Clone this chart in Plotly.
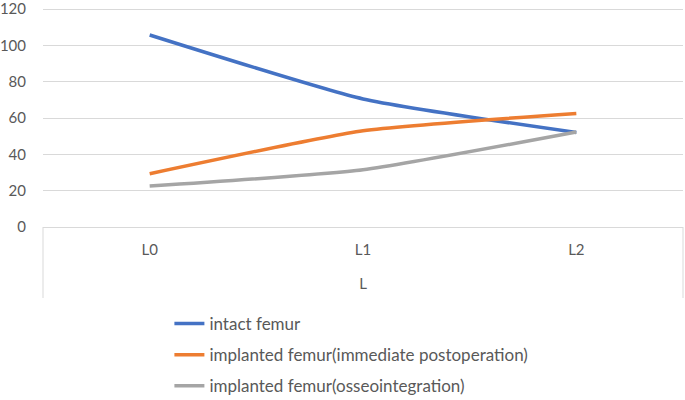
import plotly.graph_objects as go

categories = ["L0", "L1", "L2"]
intact = [105.7, 70.5, 52.0]
immediate = [29.3, 53.0, 62.5]
osseo = [22.5, 31.5, 52.3]
y_ticks = [0, 20, 40, 60, 80, 100, 120]

series = [
    ("intact femur", intact, "#4472C4"),
    ("implanted femur(immediate postoperation)", immediate, "#ED7D31"),
    ("implanted femur(osseointegration)", osseo, "#A5A5A5"),
]

FONT = "Lato, 'Open Sans', sans-serif"
GRID = "#d9d9d9"
TXT = "#595959"

fig = go.Figure()
for i, (name, vals, col) in enumerate(series):
    fig.add_trace(go.Scatter(
        x=categories, y=vals, name=name, mode="lines",
        line=dict(color=col, width=3.5, shape="spline", smoothing=0.5),
        legendgroup=f"g{i}",
    ))

fig.update_layout(
    width=685, height=400,
    margin=dict(l=43, r=2, t=5, b=173, autoexpand=False),
    paper_bgcolor="white", plot_bgcolor="white",
    font=dict(family=FONT, color=TXT, size=14),
    showlegend=True,
    legend=dict(
        x=0.1975, y=0.235, xanchor="left", yanchor="top", yref="container",
        font=dict(family=FONT, size=17, color=TXT),
        tracegroupgap=6, bgcolor="rgba(0,0,0,0)",
    ),
    xaxis=dict(
        type="category", range=[-0.5, 2.5], automargin=False,
        showgrid=False, zeroline=False, showline=False,
        ticks="", ticklabelstandoff=12,
        tickfont=dict(family=FONT, size=15, color=TXT),
        title=dict(text="L", standoff=21, font=dict(family=FONT, size=15, color=TXT)),
    ),
    yaxis=dict(
        range=[0, 122.2], tickvals=y_ticks, automargin=False,
        showgrid=True, gridcolor=GRID, gridwidth=1,
        zeroline=True, zerolinecolor=GRID, zerolinewidth=1,
        showline=False, ticks="", ticklabelstandoff=16,
        ticklabeloverflow="allow",
        tickfont=dict(family=FONT, size=15, color=TXT),
    ),
)

# Excel-style category axis box edges
for xv in (0, 1):
    fig.add_shape(type="line", xref="paper", yref="paper",
                  x0=xv, x1=xv, y0=0, y1=-0.32,
                  line=dict(color=GRID, width=1))

fig.write_html("out.html", config={"displayModeBar": False},
               post_script="document.body.style.margin='0px';")
